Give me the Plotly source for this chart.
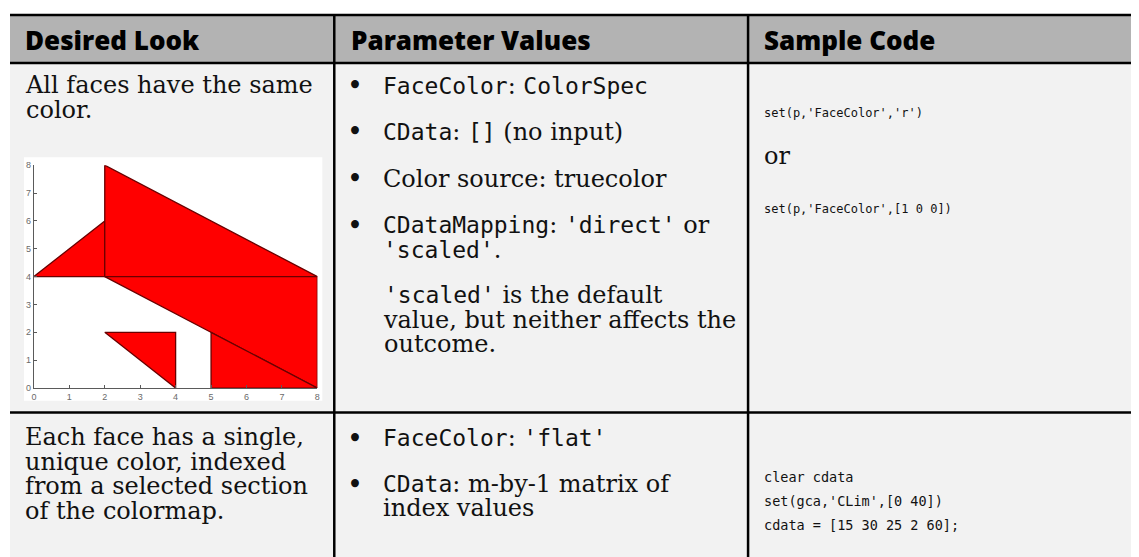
import plotly.graph_objects as go

# The page body has an 8px default margin, so the figure is laid out in
# reference-image pixels and shifted by that offset.
REF_W, REF_H = 1139, 557
OFF = 8
W, H = REF_W - OFF, REF_H - OFF

# ---------------- data: patch example shown in the table ----------------
verts_x = [0, 2, 2, 2, 8, 8, 5, 5, 2, 4, 4]
verts_y = [4, 6, 4, 8, 4, 0, 0, 2, 2, 2, 0]
faces = [[0, 1, 2], [2, 3, 4], [2, 4, 5], [6, 7, 5], [8, 9, 10]]
tick_vals = [0, 1, 2, 3, 4, 5, 6, 7, 8]
tick_text = ["0", "1", "2", "3", "4", "5", "6", "7", "8"]

headers = ["Desired Look", "Parameter Values", "Sample Code"]

SERIF = "DejaVu Serif"
MONO = "DejaVu Sans Mono"
HEAD = "Open Sans"
BODY_SIZE = 24
CODE_SIZE = 23
LINE_SPACING = 1.3  # plotly's line spacing in em of the annotation font


def seg(s, family=SERIF, size=BODY_SIZE):
    return '<span style="font-family:%s;font-size:%spx">%s</span>' % (family, size, s)


def code(s, size=CODE_SIZE):
    return seg(s, MONO, size)


def X(px):
    return (px - OFF) / W


def Y(py):
    return 1 - (py - OFF) / H


fig = go.Figure()

for f in faces:
    xs = [verts_x[i] for i in f] + [verts_x[f[0]]]
    ys = [verts_y[i] for i in f] + [verts_y[f[0]]]
    fig.add_trace(go.Scatter(
        x=xs, y=ys, mode="lines", fill="toself",
        fillcolor="#ff0000", line=dict(color="#6a0000", width=1.3),
        hoverinfo="skip", showlegend=False))

shapes = []
shapes.append(dict(type="rect", xref="paper", yref="paper", x0=X(7), x1=X(REF_W + 5), y0=Y(59), y1=Y(10),
                   fillcolor="#b3b3b3", line=dict(width=0), layer="below"))
shapes.append(dict(type="rect", xref="paper", yref="paper", x0=X(7), x1=X(REF_W + 5), y0=Y(REF_H + 5), y1=Y(59),
                   fillcolor="#f2f2f2", line=dict(width=0), layer="below"))
shapes.append(dict(type="rect", xref="paper", yref="paper", x0=X(21), x1=X(321), y0=Y(403), y1=Y(155),
                   fillcolor="#ffffff", line=dict(width=0), layer="below"))
for yy in [10, 59, 415]:
    shapes.append(dict(type="line", xref="paper", yref="paper", x0=X(7), x1=X(REF_W + 5), y0=Y(yy), y1=Y(yy),
                       line=dict(color="#000000", width=2.5)))
for xx in [333, 749]:
    shapes.append(dict(type="line", xref="paper", yref="paper", x0=X(xx), x1=X(xx), y0=Y(10), y1=Y(REF_H + 5),
                       line=dict(color="#000000", width=2.5)))

ann = []


def txt(x, y, s, size=BODY_SIZE, family=SERIF, color="#111111", weight="normal"):
    ann.append(dict(x=X(x), y=Y(y), xref="paper", yref="paper", text=s, showarrow=False,
                    xanchor="left", yanchor="middle",
                    font=dict(family=family, size=size, color=color, weight=weight)))


def para(x, y_first, lines, spacing, color="#111111"):
    """Multi-line text; lines are already-styled segments, spacing in px."""
    n = len(lines)
    yc = y_first + (n - 1) * spacing / 2.0
    ann.append(dict(x=X(x), y=Y(yc), xref="paper", yref="paper", text="<br>".join(lines),
                    showarrow=False, xanchor="left", yanchor="middle", align="left",
                    font=dict(family=SERIF, size=spacing / LINE_SPACING, color=color)))


# headers
for hx, h in zip([20, 348, 763], headers):
    txt(hx, 35, h, size=26, family=HEAD, color="#000000", weight=800)

# row 1, col 1
para(20, 82, [seg("All faces have the same"), seg("color.")], 25)

# row 1, col 2
bx, tx = 344, 380
for by in [82, 129, 177, 224]:
    txt(bx, by, "•", size=27)
txt(tx, 82, code("FaceColor") + seg(": ") + code("ColorSpec"))
txt(tx, 129, code("CData") + seg(": ") + code("[]") + seg(" (no input)"))
txt(tx, 177, seg("Color source: truecolor"))
para(tx, 224, [code("CDataMapping") + seg(": ") + code("'direct'") + seg(" or"),
               code("'scaled'") + seg(".")], 25)
para(tx, 296, [code("'scaled'") + seg(" is the default"),
               seg("value, but neither affects the"),
               seg("outcome.")], 24.5)

# row 1, col 3
txt(763, 110, "set(p,'FaceColor','r')", size=12, family=MONO)
txt(763, 154, "or")
txt(763, 208, "set(p,'FaceColor',[1 0 0])", size=12, family=MONO)

# row 2, col 1
para(20, 441, [seg("Each face has a single,"), seg("unique color, indexed"),
               seg("from a selected section"), seg("of the colormap.")], 24.5)

# row 2, col 2
txt(bx, 441, "•", size=27)
txt(bx, 488, "•", size=27)
txt(tx, 441, code("FaceColor") + seg(": ") + code("'flat'"))
para(tx, 488, [code("CData") + seg(": m-by-1 matrix of"), seg("index values")], 24)

# row 2, col 3
para(763, 481, [seg(s, MONO, 13.5) for s in
                ["clear cdata", "set(gca,'CLim',[0 40])", "cdata = [15 30 25 2 60];"]], 24)

axis_common = dict(range=[0, 8], tickmode="array", tickvals=tick_vals, ticktext=tick_text,
                   showgrid=False, zeroline=False, showline=True, linecolor="#5a5a5a", linewidth=1,
                   ticks="inside", ticklen=3, tickcolor="#5a5a5a",
                   tickfont=dict(family="Liberation Sans", size=9, color="#6a6a6a"), fixedrange=True)

fig.update_layout(
    width=W, height=H, autosize=False,
    margin=dict(l=0, r=0, t=0, b=0),
    paper_bgcolor="#ffffff", plot_bgcolor="rgba(0,0,0,0)",
    xaxis=dict(domain=[X(31), X(316)], **axis_common),
    yaxis=dict(domain=[Y(390), Y(163)], **axis_common),
    shapes=shapes, annotations=ann, showlegend=False,
)

fig.write_html("out.html")
